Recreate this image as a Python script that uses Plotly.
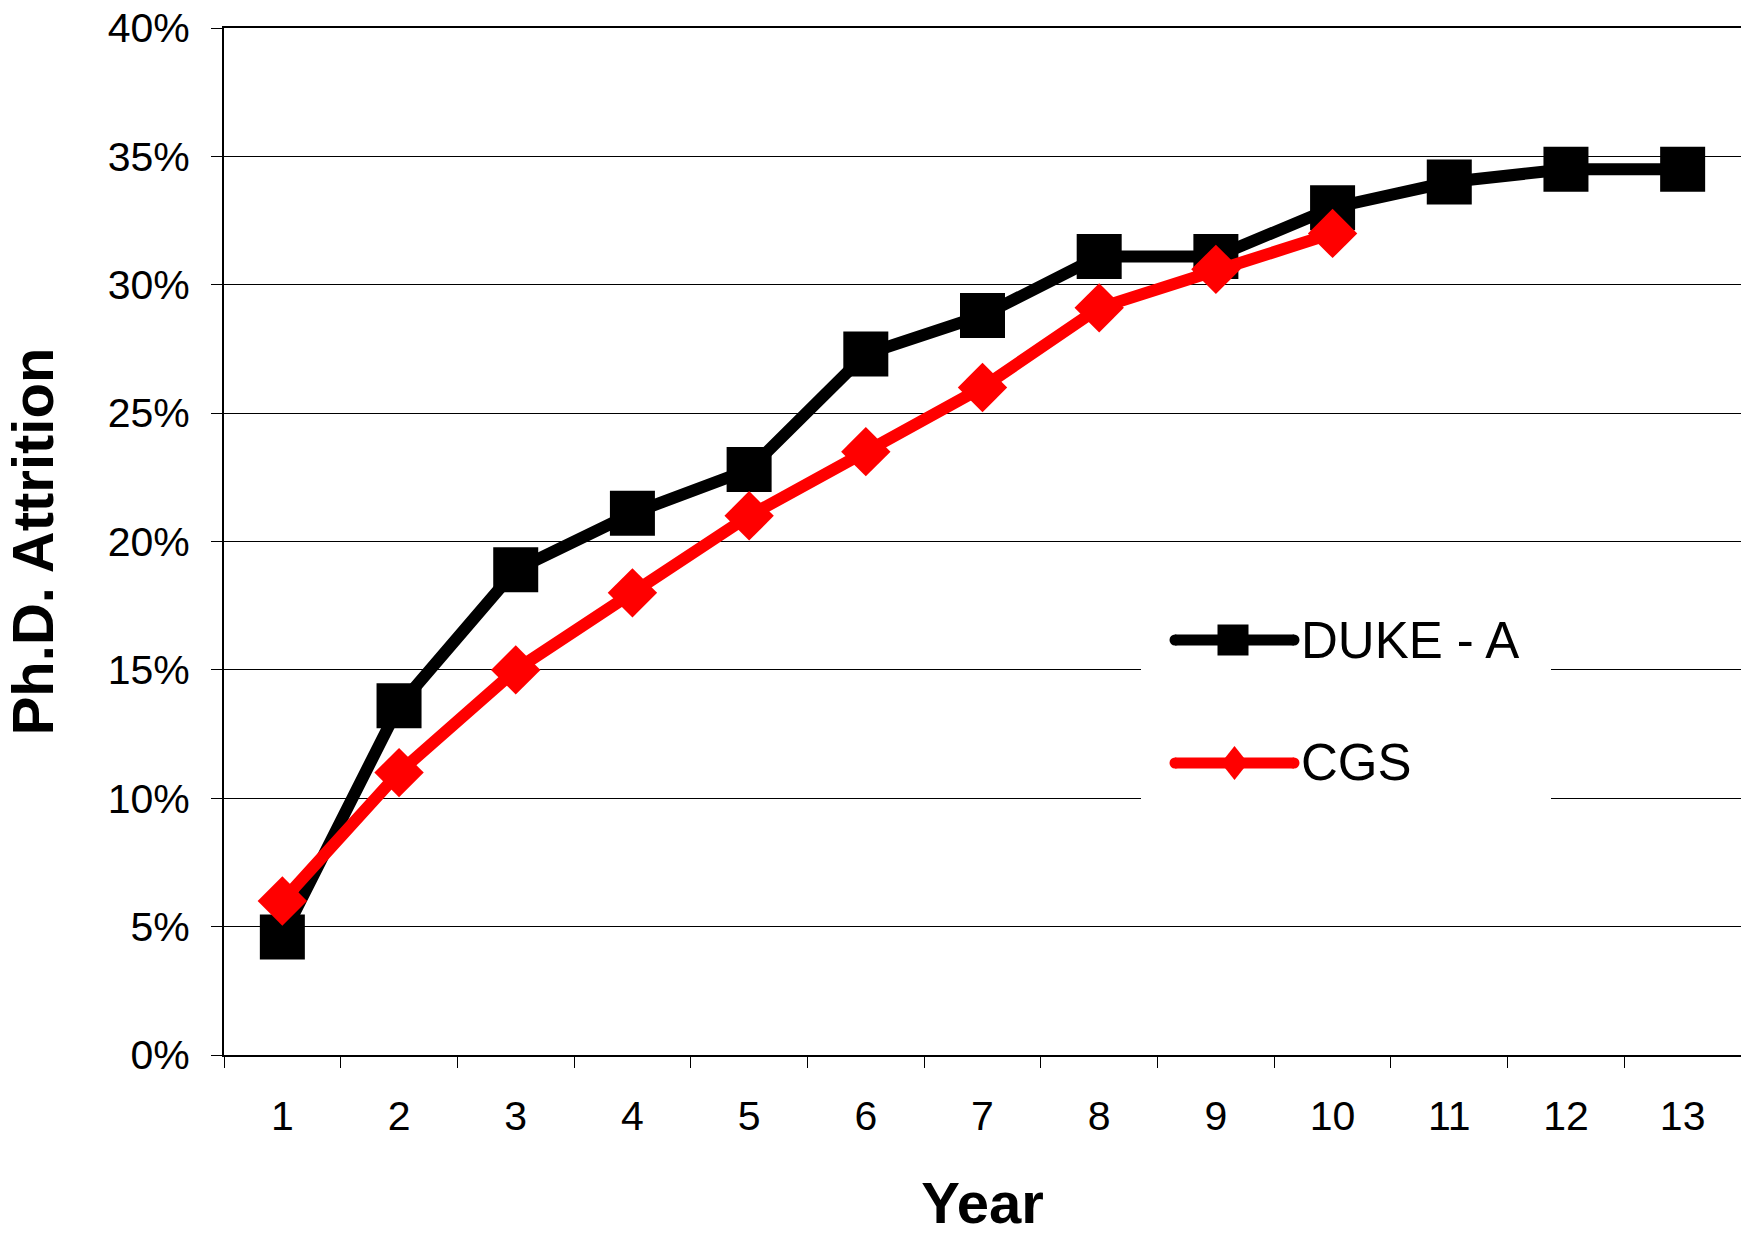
import plotly.graph_objects as go

# ---- data ----
years = ["1", "2", "3", "4", "5", "6", "7", "8", "9", "10", "11", "12", "13"]
duke_attrition = [4.6, 13.6, 18.9, 21.1, 22.8, 27.3, 28.8, 31.1, 31.1, 33.0, 34.0, 34.5, 34.5]
cgs_years = ["1", "2", "3", "4", "5", "6", "7", "8", "9", "10"]
cgs_attrition = [6.0, 11.0, 15.0, 18.0, 21.0, 23.5, 26.0, 29.1, 30.6, 32.0]
series_names = ["DUKE - A", "CGS"]
y_ticks = [0, 5, 10, 15, 20, 25, 30, 35, 40]
y_tick_labels = ["0%", "5%", "10%", "15%", "20%", "25%", "30%", "35%", "40%"]

FONT = "Liberation Sans, Arial, sans-serif"
W, H = 1741, 1235
# plot area in page pixels: left 224, right 1741, top 28, bottom 1055
ML, MR, MT, MB = 224, 0, 28, 1235 - 1055
PW, PH = W - ML - MR, H - MT - MB


def px_x(p):  # page pixel -> paper fraction
    return (p - ML) / PW


def px_y(p):
    return (H - MB - p) / PH


fig = go.Figure()
fig.add_trace(go.Scatter(
    x=years, y=duke_attrition, name=series_names[0], mode="lines+markers",
    line=dict(color="black", width=12),
    marker=dict(symbol="square", size=45, color="black", line=dict(width=0)),
    showlegend=False,
))
fig.add_trace(go.Scatter(
    x=cgs_years, y=cgs_attrition, name=series_names[1], mode="lines+markers",
    line=dict(color="#ff0000", width=12),
    marker=dict(symbol="diamond", size=38, color="#ff0000", line=dict(width=0)),
    showlegend=False,
))

# ---- legend drawn as decoration (Excel-style long samples) ----
shapes = [dict(type="rect", xref="paper", yref="paper",
               x0=px_x(1141), x1=px_x(1551), y0=px_y(830), y1=px_y(590),
               fillcolor="white", line=dict(width=0), layer="above")]
annotations = []
legend_rows = [(series_names[0], "black", "square", 640),
               (series_names[1], "#ff0000", "diamond", 763)]
cx = (1175 + 1294) / 2
for name, col, sym, yy in legend_rows:
    anc = dict(xref="paper", yref="paper", xsizemode="pixel", ysizemode="pixel",
               xanchor=px_x(cx), yanchor=px_y(yy), layer="above")
    shapes.append(dict(type="line", x0=-59.5, x1=59.5, y0=0, y1=0,
                       line=dict(color=col, width=11), **anc))
    for ex in (-59.5, 59.5):
        shapes.append(dict(type="circle", x0=ex - 5.5, x1=ex + 5.5, y0=-5.5, y1=5.5,
                           fillcolor=col, line=dict(width=0), **anc))
    if sym == "square":
        shapes.append(dict(type="rect", x0=-17, x1=14, y0=-15.5, y1=15.5,
                           fillcolor=col, line=dict(width=0), **anc))
    else:
        shapes.append(dict(type="path", path="M0,17 L13.5,0 L0,-17 L-13.5,0 Z",
                           fillcolor=col, line=dict(width=0), **anc))
    annotations.append(dict(text=name, xref="paper", yref="paper",
                            x=px_x(1299), y=px_y(yy), xanchor="left", yanchor="middle",
                            showarrow=False, font=dict(family=FONT, size=51, color="black")))

fig.update_layout(
    width=W, height=H,
    margin=dict(l=ML, r=MR, t=MT, b=MB, pad=0),
    paper_bgcolor="white", plot_bgcolor="white",
    font=dict(family=FONT, color="black"),
    shapes=shapes, annotations=annotations,
    xaxis=dict(
        type="category", range=[-0.5, 12.5], tickson="boundaries",
        ticks="outside", ticklen=11, tickwidth=1, tickcolor="black",
        showline=True, linecolor="black", linewidth=1.5, mirror=True,
        showgrid=False, zeroline=False, automargin=False,
        tickfont=dict(family=FONT, size=41, color="black"),
        ticklabelstandoff=24,
        title=dict(text="<b>Year</b>", font=dict(family=FONT, size=58, color="black"), standoff=51),
    ),
    yaxis=dict(
        range=[0, 40], tickmode="array", tickvals=y_ticks, ticktext=y_tick_labels,
        ticks="outside", ticklen=11, tickwidth=1, tickcolor="black",
        showline=True, linecolor="black", linewidth=2,
        showgrid=True, gridcolor="black", gridwidth=1, zeroline=False, automargin=False,
        tickfont=dict(family=FONT, size=41, color="black"),
        ticklabelstandoff=13, ticklabeloverflow="allow",
        title=dict(text="<b>Ph.D. Attrition</b>", font=dict(family=FONT, size=58, color="black"), standoff=49),
    ),
)

# remove the default 8px page margin so the figure fills the window exactly
fig.write_html(
    "out.html",
    config={"displayModeBar": False},
    post_script="document.body.style.margin='0';document.body.style.overflow='hidden';",
)
